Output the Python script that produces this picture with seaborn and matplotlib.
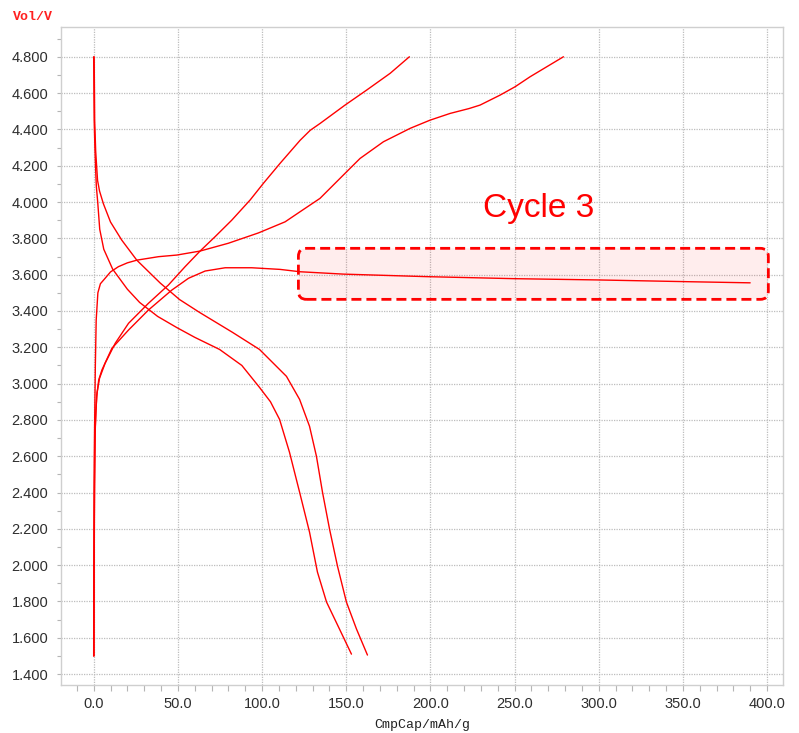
import matplotlib
matplotlib.use("Agg")
import matplotlib.pyplot as plt
import pandas as pd
import seaborn as sns
from matplotlib.patches import FancyBboxPatch
from matplotlib.ticker import MultipleLocator, FormatStrFormatter

# ---- charge / discharge curves (specific capacity mAh/g, voltage V) ----
charge_a_cap = [0.0, 0.1, 0.3, 0.6, 1.0, 1.5, 2.5, 4.0, 6.8, 10.0, 14.7, 20.0, 25.7,
                38.5, 49.4, 63.2, 80.0, 97.9, 113.7, 122.5, 134.4, 149.3, 158.2,
                172.1, 188.0, 199.8, 211.7, 223.0, 229.5, 241.4, 250.3, 259.2,
                269.1, 279.0]
charge_a_vol = [1.50, 2.00, 2.55, 2.80, 3.10, 3.35, 3.50, 3.55, 3.58, 3.615, 3.644,
                3.665, 3.68, 3.699, 3.708, 3.73, 3.773, 3.83, 3.891, 3.946, 4.02,
                4.158, 4.24, 4.332, 4.406, 4.451, 4.488, 4.515, 4.534, 4.589,
                4.635, 4.69, 4.745, 4.80]

charge_b_cap = [0.2, 0.3, 0.5, 0.8, 1.3, 2.0, 3.5, 6.8, 12.8, 20.7, 32.5, 44.4, 54.3,
                63.2, 72.1, 82.0, 92.9, 100.8, 110.7, 122.6, 128.6, 134.5, 149.3,
                162.2, 176.1, 187.5]
charge_b_vol = [1.50, 1.95, 2.40, 2.70, 2.85, 2.95, 3.03, 3.112, 3.222, 3.332, 3.442,
                3.543, 3.644, 3.73, 3.809, 3.90, 4.011, 4.103, 4.213, 4.340, 4.395,
                4.433, 4.534, 4.617, 4.709, 4.80]

cycle3_cap = [0.1, 0.2, 0.5, 0.9, 1.8, 3.0, 4.9, 10.8, 20.7, 32.5, 46.4, 56.3, 66.2,
              78.1, 93.9, 110.7, 122.6, 148.3, 197.9, 249.3, 298.8, 354.2, 389.9]
cycle3_vol = [1.50, 1.95, 2.45, 2.75, 2.93, 3.02, 3.075, 3.194, 3.295, 3.405, 3.515,
              3.58, 3.62, 3.638, 3.638, 3.629, 3.616, 3.603, 3.589, 3.578, 3.571,
              3.561, 3.555]

discharge_a_cap = [0.0, 0.3, 0.8, 1.3, 1.6, 2.4, 3.6, 6.0, 11.3, 20.0, 27.3, 38.0,
                   49.3, 60.0, 74.8, 88.0, 98.5, 105.0, 110.4, 116.3, 122.3, 128.2,
                   132.9, 138.3, 146.0, 153.1]
discharge_a_vol = [4.80, 4.45, 4.28, 4.15, 4.085, 4.00, 3.85, 3.74, 3.63, 3.52, 3.447,
                   3.37, 3.309, 3.255, 3.188, 3.10, 2.979, 2.90, 2.803, 2.622, 2.402,
                   2.182, 1.962, 1.797, 1.648, 1.51]

discharge_b_cap = [0.3, 0.6, 1.2, 2.3, 3.5, 5.8, 10.0, 16.7, 25.6, 39.5, 51.0, 62.9,
                   82.5, 98.5, 114.5, 122.3, 128.2, 132.3, 135.9, 140.1, 144.8,
                   150.1, 156.1, 162.6]
discharge_b_vol = [4.80, 4.45, 4.28, 4.12, 4.06, 3.99, 3.89, 3.79, 3.68, 3.554, 3.463,
                   3.392, 3.282, 3.188, 3.04, 2.913, 2.765, 2.60, 2.402, 2.198, 1.995,
                   1.797, 1.648, 1.505]

# highlighted plateau region and its label
box_cap = [121.6, 400.7]
box_vol = [3.464, 3.745]
label_text = "Cycle 3"
label_pos = (264.0, 3.965)

x_ticks = [0, 50, 100, 150, 200, 250, 300, 350, 400]
y_ticks = [1.4, 1.6, 1.8, 2.0, 2.2, 2.4, 2.6, 2.8, 3.0, 3.2, 3.4, 3.6, 3.8,
           4.0, 4.2, 4.4, 4.6, 4.8]

curves = {
    "charge_a": (charge_a_cap, charge_a_vol),
    "charge_b": (charge_b_cap, charge_b_vol),
    "cycle3": (cycle3_cap, cycle3_vol),
    "discharge_a": (discharge_a_cap, discharge_a_vol),
    "discharge_b": (discharge_b_cap, discharge_b_vol),
}
frames = [pd.DataFrame({"cap": c, "vol": v, "curve": name})
          for name, (c, v) in curves.items()]
df = pd.concat(frames, ignore_index=True)

sns.set_theme(style="white")
plt.rcParams["font.family"] = ["Liberation Sans", "DejaVu Sans"]

fig = plt.figure(figsize=(7.99, 7.33), dpi=100)
ax = fig.add_axes([61 / 799, 1 - 685 / 733, 722 / 799, 658 / 733])

sns.lineplot(data=df, x="cap", y="vol", units="curve", estimator=None, sort=False,
             color="#ff0000", linewidth=1.0, ax=ax, zorder=3)

ax.set_xlim(-19.4, 409.4)
ax.set_ylim(1.34, 4.964)

ax.xaxis.set_major_locator(MultipleLocator(50))
ax.xaxis.set_minor_locator(MultipleLocator(10))
ax.yaxis.set_major_locator(MultipleLocator(0.2))
ax.yaxis.set_minor_locator(MultipleLocator(0.1))
ax.set_xticks(x_ticks)
ax.set_yticks(y_ticks)
ax.xaxis.set_major_formatter(FormatStrFormatter("%.1f"))
ax.yaxis.set_major_formatter(FormatStrFormatter("%.3f"))

ax.grid(True, which="major", color="#bdbdbd", linestyle=(0, (1, 1)), linewidth=0.9)
for s in ax.spines.values():
    s.set_color("#cfcfcf")
    s.set_linewidth(1.0)

ax.tick_params(axis="x", which="both", direction="out", length=4, width=0.8,
               color="#b5b5b5", labelsize=10.5, labelcolor="#2e2e2e", pad=5,
               bottom=True)
ax.tick_params(axis="y", which="both", direction="out", length=3, width=0.8,
               color="#b5b5b5", labelsize=10.5, labelcolor="#2e2e2e", pad=6,
               left=True)

ax.set_xlabel("")
ax.set_ylabel("")
fig.text(422 / 799, 1 - 725 / 733, "CmpCap/mAh/g", ha="center", va="center",
         fontsize=9.5, family=["Liberation Mono", "DejaVu Sans Mono"], color="#222222")
fig.text(13 / 799, 1 - 17 / 733, "Vol/V", ha="left", va="center",
         fontsize=9.5, family=["Liberation Mono", "DejaVu Sans Mono"],
         fontweight="bold", color="#ff2020")

# rounded dashed highlight around the plateau
xpx = 722 / (409.4 + 19.4)
ypx = 658 / (4.964 - 1.34)
box = FancyBboxPatch((box_cap[0], box_vol[0]), box_cap[1] - box_cap[0],
                     box_vol[1] - box_vol[0],
                     boxstyle="round,pad=0,rounding_size=%.3f" % (8 / xpx),
                     mutation_aspect=xpx / ypx,
                     facecolor=(1.0, 0.0, 0.0, 0.07), edgecolor="#ff0000",
                     linewidth=2.0, linestyle=(0, (3.6, 1.8)), zorder=2)
ax.add_patch(box)

ax.text(label_pos[0], label_pos[1], label_text, ha="center", va="center",
        fontsize=24, color="#ff0000", zorder=4)

fig.savefig("out.png", dpi=100)
